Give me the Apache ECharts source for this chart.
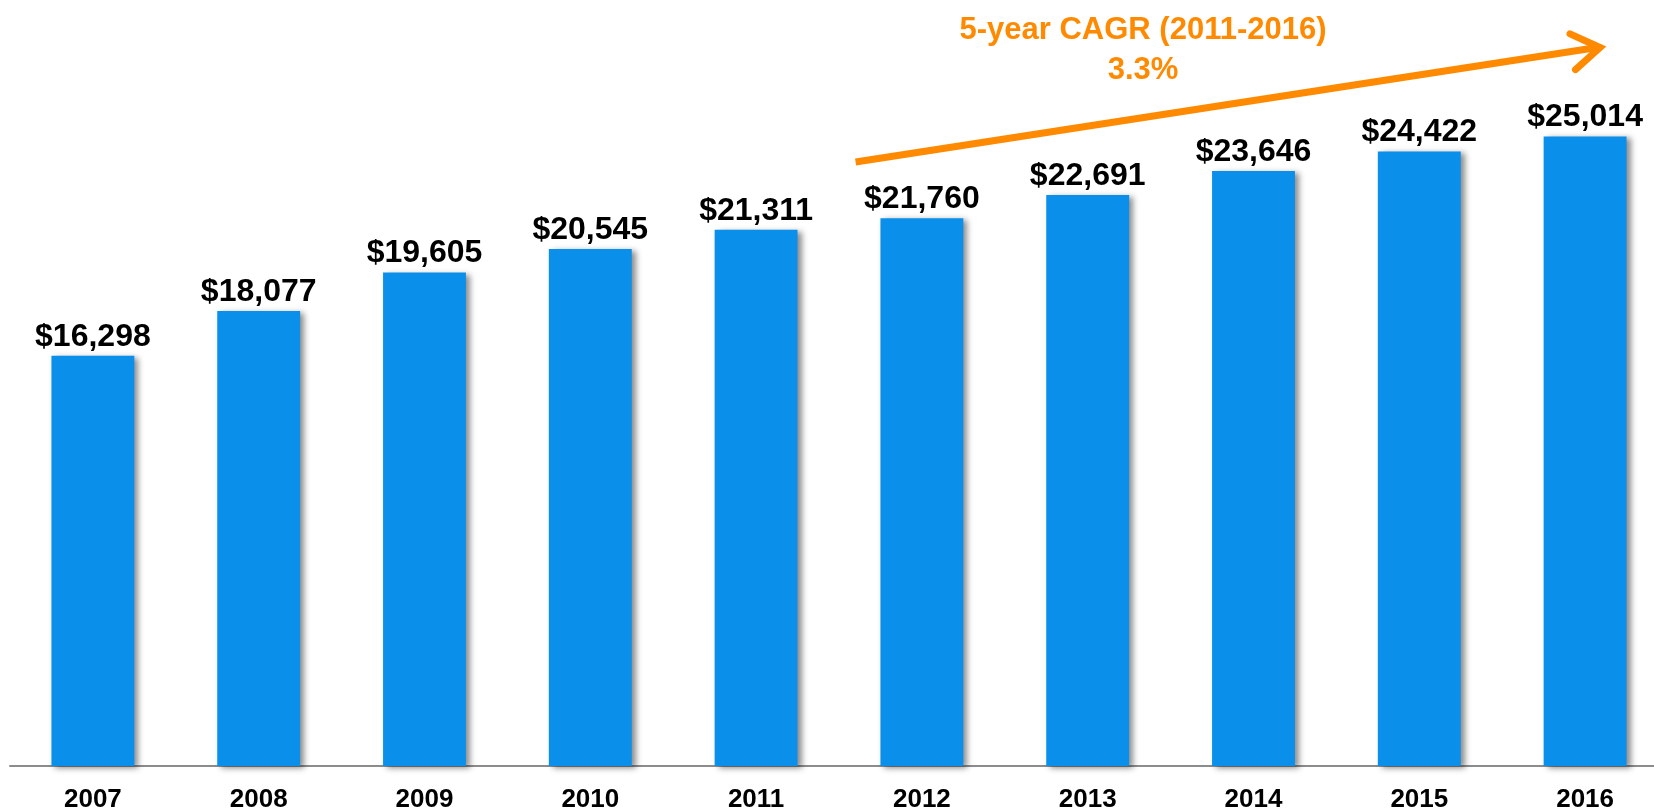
<!DOCTYPE html>
<html>
<head>
<meta charset="utf-8">
<script src="https://cdn.jsdelivr.net/npm/echarts@6/dist/echarts.min.js"></script>
<style>
  html, body { margin: 0; padding: 0; background: #fff; }
  #chart { width: 1654px; height: 811px; }
</style>
</head>
<body>
<div id="chart"></div>
<script>
// data
const years = ['2007', '2008', '2009', '2010', '2011', '2012', '2013', '2014', '2015', '2016']
const values = [16298, 18077, 19605, 20545, 21311, 21760, 22691, 23646, 24422, 25014]
const cagrTitle = '5-year CAGR (2011-2016)'
const cagrValue = '3.3%'
// arrow ends in data space [category index, value]
const arrowFrom = [4.6, 24000]
const arrowTo = [9.09, 28550]

const chart = echarts.init(document.getElementById('chart'))

const fmt = v => '$' + v.toLocaleString('en-US')

chart.setOption({
  animation: false,
  grid: { left: 10, width: 1658, top: 11, bottom: 45, outerBoundsMode: 'none', containLabel: false },
  xAxis: {
    type: 'category',
    data: years,
    axisTick: { show: false },
    axisLine: { lineStyle: { color: '#8c8c8c', width: 2 } },
    axisLabel: {
      margin: 21,
      color: '#000',
      fontFamily: 'Liberation Sans, Arial',
      fontWeight: 'bold',
      fontSize: 26
    }
  },
  yAxis: {
    type: 'value',
    min: 0,
    max: 30000,
    show: false,
    splitLine: { show: false }
  },
  series: [{
    type: 'bar',
    data: values,
    barWidth: '50%',
    itemStyle: {
      color: '#0a90ea',
      shadowColor: 'rgba(0,0,0,0.45)',
      shadowBlur: 6,
      shadowOffsetX: 4,
      shadowOffsetY: 2
    },
    label: {
      show: true,
      position: 'top',
      distance: 3,
      formatter: p => fmt(p.value),
      color: '#000',
      fontFamily: 'Liberation Sans, Arial',
      fontWeight: 'bold',
      fontSize: 32
    }
  }]
})

// category index may be fractional: interpolate between neighbouring bands
function toPixel(pt) {
  const i = Math.floor(pt[0])
  const a = chart.convertToPixel({ gridIndex: 0 }, [i, pt[1]])
  const b = chart.convertToPixel({ gridIndex: 0 }, [i + 1, pt[1]])
  const step = i + 1 < years.length ? b[0] - a[0]
    : a[0] - chart.convertToPixel({ gridIndex: 0 }, [i - 1, pt[1]])[0]
  return [a[0] + (pt[0] - i) * step, a[1]]
}

// CAGR arrow annotation
const p0 = toPixel(arrowFrom)
const p1 = toPixel(arrowTo)
const ang = Math.atan2(p1[1] - p0[1], p1[0] - p0[0])
const head = 33, spread = 0.58
const a1 = [p1[0] - head * Math.cos(ang - spread), p1[1] - head * Math.sin(ang - spread)]
const a2 = [p1[0] - head * Math.cos(ang + spread), p1[1] - head * Math.sin(ang + spread)]
const orange = '#ff8a00'
const cx = 1143

chart.setOption({
  graphic: [
    {
      type: 'polyline',
      shape: { points: [p0, [p1[0] - 3, p1[1]]] },
      style: { stroke: orange, lineWidth: 7, lineCap: 'butt' }
    },
    {
      type: 'polyline',
      shape: { points: [a1, p1, a2] },
      style: { stroke: orange, lineWidth: 7, lineCap: 'round', lineJoin: 'miter' }
    },
    {
      type: 'text',
      x: cx, y: 30,
      style: {
        text: cagrTitle,
        fill: orange,
        font: 'bold 31px "Liberation Sans", Arial',
        align: 'center',
        verticalAlign: 'middle'
      }
    },
    {
      type: 'text',
      x: cx, y: 70,
      style: {
        text: cagrValue,
        fill: orange,
        font: 'bold 31px "Liberation Sans", Arial',
        align: 'center',
        verticalAlign: 'middle'
      }
    }
  ]
})
</script>
</body>
</html>
